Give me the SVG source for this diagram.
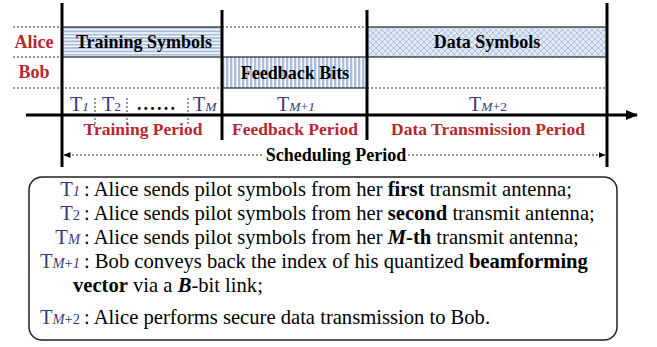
<svg xmlns="http://www.w3.org/2000/svg" width="657" height="347" viewBox="0 0 657 347">
  <style>
    .thick { stroke: #000; stroke-width: 3; fill: none; }
    .dot { stroke: #333; stroke-width: 1; stroke-dasharray: 2 2; fill: none; }
    .block { stroke: #222; stroke-width: 1.2; }
    .who { font-family: "Liberation Serif", serif; font-weight: bold; font-size: 18px; fill: #b8262e; text-anchor: middle; }
    .period { font-family: "Liberation Serif", serif; font-weight: bold; font-size: 17.5px; fill: #b8262e; text-anchor: middle; }
    .blk { font-family: "Liberation Serif", serif; font-weight: bold; font-size: 18px; fill: #000; text-anchor: middle; }
    .tl { font-family: "Liberation Serif", serif; font-size: 20px; fill: #3a3a78; }
    .sub { font-size: 13.5px; font-style: italic; }
    .subu { font-size: 13.5px; }
    .body { font-family: "Liberation Serif", serif; font-size: 20.6px; fill: #000; }
    .lab { font-family: "Liberation Serif", serif; font-size: 20.6px; fill: #3a3a78; text-anchor: end; }
    .lsub { font-size: 14.5px; font-style: italic; }
    .lsubu { font-size: 14.5px; }
  </style>
  <defs>
    <pattern id="hstripe" patternUnits="userSpaceOnUse" width="6" height="3.35" y="27">
      <rect width="6" height="3.35" fill="#ffffff"/>
      <rect width="6" height="2" fill="#a9bedb"/>
    </pattern>
    <pattern id="vstripe" patternUnits="userSpaceOnUse" width="4" height="6" x="222">
      <rect width="4" height="6" fill="#ffffff"/>
      <rect width="2.4" height="6" fill="#a9bedb"/>
    </pattern>
    <pattern id="xhatch" patternUnits="userSpaceOnUse" width="6" height="6" x="367" y="27">
      <rect width="6" height="6" fill="#dfe8f4"/>
      <path d="M0 0 L6 6 M6 0 L0 6" stroke="#a9bedb" stroke-width="0.9"/>
    </pattern>
    <marker id="bigArrow" viewBox="0 0 12 10" refX="11" refY="5" markerWidth="12" markerHeight="10" markerUnits="userSpaceOnUse" orient="auto">
      <path d="M0 0 L12 5 L0 10 Z" fill="#000"/>
    </marker>
    <marker id="smallArrow" viewBox="0 0 7 6" refX="6.5" refY="3" markerWidth="7" markerHeight="6" markerUnits="userSpaceOnUse" orient="auto-start-reverse">
      <path d="M0 0 L7 3 L0 6 Z" fill="#000"/>
    </marker>
  </defs>

  <!-- dotted reference rows -->
  <g id="grid">
    <line class="dot" x1="13" y1="27" x2="62" y2="27"/>
    <line class="dot" x1="222" y1="27" x2="367" y2="27"/>
    <line class="dot" x1="13" y1="57" x2="62" y2="57"/>
    <line class="dot" x1="13" y1="88" x2="222" y2="88"/>
    <line class="dot" x1="367" y1="88" x2="607" y2="88"/>
  </g>

  <!-- slot blocks -->
  <g id="training-symbols">
    <rect class="block" x="62" y="27" width="160" height="30" fill="url(#hstripe)"/>
    <text class="blk" x="144" y="48">Training Symbols</text>
  </g>
  <g id="feedback-bits">
    <rect class="block" x="222" y="57" width="145" height="31" fill="url(#vstripe)"/>
    <text class="blk" x="295" y="79">Feedback Bits</text>
  </g>
  <g id="data-symbols">
    <rect class="block" x="367" y="27" width="240" height="30" fill="url(#xhatch)"/>
    <text class="blk" x="487" y="48">Data Symbols</text>
  </g>

  <!-- row names -->
  <g id="alice"><text class="who" x="34" y="48">Alice</text></g>
  <g id="bob"><text class="who" x="34" y="78">Bob</text></g>

  <!-- time slot labels -->
  <g id="slots">
    <text class="tl" x="70" y="111">T<tspan class="sub">1</tspan></text>
    <line class="dot" x1="95" y1="98" x2="95" y2="125"/>
    <text class="tl" x="102" y="111">T<tspan class="subu">2</tspan></text>
    <line class="dot" x1="127" y1="98" x2="127" y2="125"/>
    <text x="157" y="110" font-family="Liberation Serif, serif" font-size="18" font-weight="bold" letter-spacing="2.2" text-anchor="middle" fill="#000">......</text>
    <line class="dot" x1="188" y1="98" x2="188" y2="125"/>
    <text class="tl" x="193" y="111">T<tspan class="sub">M</tspan></text>
    <text class="tl" x="296" y="111" text-anchor="middle">T<tspan class="sub">M</tspan><tspan class="subu">+</tspan><tspan class="sub">1</tspan></text>
    <text class="tl" x="488" y="111" text-anchor="middle">T<tspan class="sub">M</tspan><tspan class="subu">+2</tspan></text>
  </g>

  <!-- time axis and period boundaries -->
  <g id="connectors">
    <line class="thick" x1="26" y1="115" x2="637" y2="115" marker-end="url(#bigArrow)"/>
    <line class="thick" x1="62" y1="3" x2="62" y2="167"/>
    <line class="thick" x1="607" y1="3" x2="607" y2="167"/>
    <line class="thick" x1="222" y1="10" x2="222" y2="140"/>
    <line class="thick" x1="367" y1="10" x2="367" y2="140"/>
    <line class="dot" x1="64" y1="155" x2="264" y2="155" marker-start="url(#smallArrow)"/>
    <line class="dot" x1="408" y1="155" x2="605" y2="155" marker-end="url(#smallArrow)"/>
  </g>

  <!-- period names -->
  <g id="periods">
    <text class="period" x="143" y="135">Training Period</text>
    <text class="period" x="295" y="135">Feedback Period</text>
    <text class="period" x="488" y="135">Data Transmission Period</text>
    <text class="blk" x="336" y="161">Scheduling Period</text>
  </g>

  <!-- legend box -->
  <g id="legend">
    <rect x="29" y="177" width="588" height="163" rx="13" ry="13" fill="#fff" stroke="#222" stroke-width="1.5"/>
    <text class="lab" x="80" y="196">T<tspan class="lsub">1</tspan></text>
    <text class="body" x="84" y="196">: Alice sends pilot symbols from her <tspan font-weight="bold">first</tspan> transmit antenna;</text>
    <text class="lab" x="80" y="220">T<tspan class="lsubu">2</tspan></text>
    <text class="body" x="84" y="220">: Alice sends pilot symbols from her <tspan font-weight="bold">second</tspan> transmit antenna;</text>
    <text class="lab" x="80" y="244">T<tspan class="lsub">M</tspan></text>
    <text class="body" x="84" y="244">: Alice sends pilot symbols from her <tspan font-weight="bold" font-style="italic">M</tspan><tspan font-weight="bold">-th</tspan> transmit antenna;</text>
    <text class="lab" x="80" y="268">T<tspan class="lsub">M</tspan><tspan class="lsubu">+</tspan><tspan class="lsub">1</tspan></text>
    <text class="body" x="84" y="268">: Bob conveys back the index of his quantized <tspan font-weight="bold">beamforming</tspan></text>
    <text class="body" x="73" y="292"><tspan font-weight="bold">vector</tspan> via a <tspan font-weight="bold" font-style="italic">B</tspan>-bit link;</text>
    <text class="lab" x="80" y="324">T<tspan class="lsub">M</tspan><tspan class="lsubu">+2</tspan></text>
    <text class="body" x="84" y="324">: Alice performs secure data transmission to Bob.</text>
  </g>
</svg>
